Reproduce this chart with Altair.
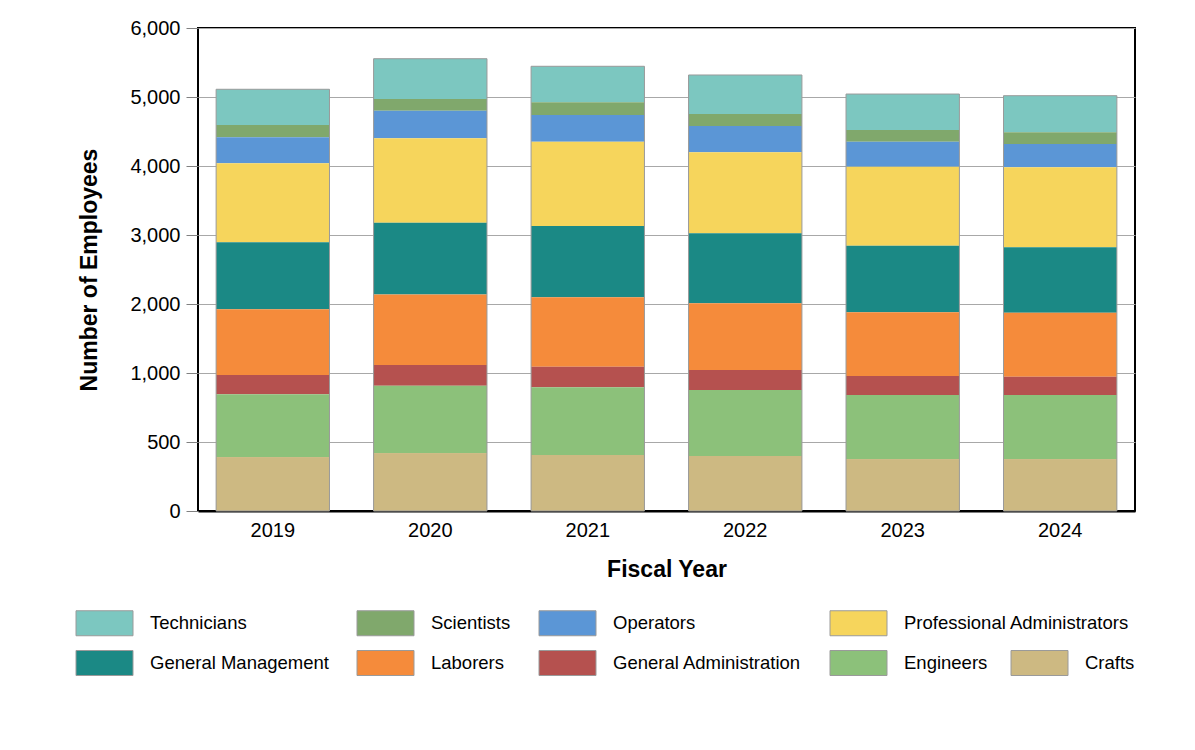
import altair as alt
import pandas as pd

years = ["2019", "2020", "2021", "2022", "2023", "2024"]

# legend order (top of stack first)
categories = [
    "Technicians", "Scientists", "Operators", "Professional Administrators",
    "General Management", "Laborers", "General Administration", "Engineers", "Crafts",
]
colors = [
    "#7cc7c0", "#80a86c", "#5b96d6", "#f6d55c",
    "#1b8985", "#f58b3b", "#b5514f", "#8cc17a", "#cdb982",
]

crafts = [390, 418, 406, 399, 375, 375]
engineers = [456, 490, 490, 478, 466, 466]
general_administration = [140, 208, 195, 166, 137, 132]
laborers = [937, 1023, 1006, 967, 902, 901]
general_management = [971, 1039, 1033, 1015, 965, 948]
professional_administrators = [1145, 1223, 1222, 1174, 1145, 1159]
operators = [377, 400, 387, 381, 362, 338]
scientists = [178, 170, 184, 174, 170, 169]
technicians = [518, 584, 522, 565, 521, 531]

y_tick_values = [0, 500, 1000, 2000, 3000, 4000, 5000, 6000]

series = {
    "Crafts": crafts,
    "Engineers": engineers,
    "General Administration": general_administration,
    "Laborers": laborers,
    "General Management": general_management,
    "Professional Administrators": professional_administrators,
    "Operators": operators,
    "Scientists": scientists,
    "Technicians": technicians,
}
stack_order = list(reversed(categories))  # bottom first

rows = []
for cat in categories:
    for yr, v in zip(years, series[cat]):
        rows.append({"Year": yr, "Category": cat, "Employees": v,
                     "order": stack_order.index(cat)})
df = pd.DataFrame(rows)

W, H = 937, 483
# the original axis is piecewise: 0-1000 takes two gridline steps, then 1000 per step
yscale = alt.Scale(domain=[0, 1000, 6000], range=[H, H * 5 / 7, 0], nice=False, zero=False)

x_enc = alt.X(
    "Year:N",
    sort=years,
    scale=alt.Scale(paddingInner=0.28, paddingOuter=0.115),
    axis=alt.Axis(title="Fiscal Year", labelAngle=0, labelFontSize=20, titleFontSize=23,
                  titleFontWeight="bold", ticks=False, domainColor="black", domainWidth=2,
                  labelPadding=9, titlePadding=18, labelColor="black", titleColor="black",
                  grid=False),
)
y_axis = alt.Axis(title="Number of Employees", values=y_tick_values, format=",d",
                  labelFontSize=20, titleFontSize=23, titleFontWeight="bold",
                  tickSize=12, tickColor="#808080", gridColor="#a8a8a8", gridWidth=1,
                  domain=False, labelPadding=6, titlePadding=28,
                  labelColor="black", titleColor="black")

# wide swatch: 57 x 25 px drawn around a 25 px legend symbol box
rect_path = "M-2.28,-1H2.28V1H-2.28Z"
legend_common = dict(
    title=None, orient="none", direction="horizontal",
    symbolType=rect_path, symbolSize=625,
    symbolStrokeColor="#9a9a9a", symbolStrokeWidth=1, symbolOpacity=1,
    symbolOffset=15.5, labelOffset=32.5,
    labelFontSize=18.5, labelColor="black", labelLimit=400,
    columnPadding=26, rowPadding=10, padding=0,
)

bars = alt.Chart(df).mark_bar().encode(
    x=x_enc,
    y=alt.Y("Employees:Q", stack="zero", scale=yscale, axis=y_axis),
    color=alt.Color("Category:N", scale=alt.Scale(domain=categories, range=colors),
                    legend=alt.Legend(values=categories[:8], columns=4,
                                      legendX=-122, legendY=582, **legend_common)),
    order=alt.Order("order:Q", sort="ascending"),
)

crafts_bars = alt.Chart(df).transform_filter(alt.datum.Category == "Crafts").mark_bar().encode(
    x=x_enc,
    y=alt.Y("Employees:Q", stack="zero", scale=yscale),
    fill=alt.Fill("Category:N", scale=alt.Scale(domain=["Crafts"], range=[colors[-1]]),
                  legend=alt.Legend(values=["Crafts"], columns=1,
                                    legendX=813, legendY=622, **legend_common)),
)

outline = alt.Chart(df).mark_bar(fillOpacity=0, stroke="#9a9a9a", strokeWidth=1).encode(
    x=x_enc,
    y=alt.Y("sum(Employees):Q", scale=yscale),
)

chart = alt.layer(bars, crafts_bars, outline).properties(
    width=W, height=H,
    padding={"left": 68, "top": 10, "right": 5, "bottom": 5},
).configure(
    font="Liberation Sans",
).configure_view(
    stroke="black", strokeWidth=2,
)

chart.save("out.html", embed_options={"renderer": "svg", "actions": False})
